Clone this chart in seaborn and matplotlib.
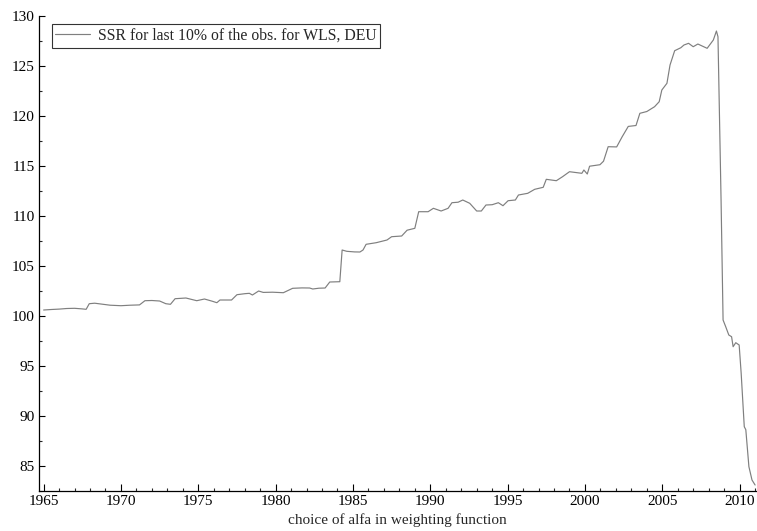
import matplotlib
matplotlib.use("Agg")
import matplotlib.pyplot as plt
from matplotlib.ticker import MultipleLocator
import seaborn as sns
import pandas as pd

# Sum of squared residuals for the last 10% of observations (WLS, DEU)
years = [
    1965.0, 1965.5, 1966.0, 1966.5, 1967.0, 1967.5, 1967.75, 1967.95, 1968.3, 1968.8,
    1969.3, 1970.0, 1970.6, 1971.2, 1971.55, 1972.0, 1972.5, 1972.9, 1973.2, 1973.5,
    1974.2, 1974.9, 1975.4, 1975.9, 1976.2, 1976.4, 1977.15, 1977.5, 1978.0, 1978.3,
    1978.5, 1978.9, 1979.2, 1979.8, 1980.5, 1981.1, 1981.7, 1982.2, 1982.4, 1982.8,
    1983.2, 1983.5, 1984.15, 1984.3, 1984.6, 1985.1, 1985.45, 1985.65, 1985.85, 1986.5,
    1987.2, 1987.5, 1988.15, 1988.5, 1989.0, 1989.25, 1989.86, 1990.2, 1990.7, 1991.15,
    1991.4, 1991.8, 1992.1, 1992.55, 1993.0, 1993.3, 1993.6, 1994.0, 1994.4, 1994.7,
    1995.03, 1995.5, 1995.7, 1996.3, 1996.75, 1997.3, 1997.5, 1998.15, 1998.55, 1999.0,
    1999.8, 1999.93, 2000.15, 2000.3, 2000.97, 2001.2, 2001.5, 2002.05, 2002.4, 2002.8,
    2003.3, 2003.55, 2004.0, 2004.5, 2004.8, 2004.97, 2005.3, 2005.5, 2005.8, 2006.2,
    2006.4, 2006.7, 2007.0, 2007.3, 2007.9, 2008.3, 2008.5, 2008.6, 2008.8, 2008.93,
    2009.1, 2009.3, 2009.48, 2009.58, 2009.75, 2009.97, 2010.1, 2010.2, 2010.3, 2010.4,
    2010.6, 2010.8, 2011.0,
]
ssr = [
    100.57, 100.62, 100.66, 100.72, 100.74, 100.68, 100.64, 101.2, 101.25, 101.15,
    101.05, 101.0, 101.05, 101.08, 101.5, 101.52, 101.47, 101.2, 101.14, 101.7,
    101.77, 101.5, 101.67, 101.45, 101.3, 101.57, 101.57, 102.1, 102.2, 102.24,
    102.07, 102.47, 102.33, 102.35, 102.3, 102.74, 102.78, 102.77, 102.67, 102.75,
    102.77, 103.37, 103.4, 106.57, 106.44, 106.38, 106.37, 106.57, 107.14, 107.3,
    107.57, 107.9, 107.97, 108.55, 108.74, 110.4, 110.4, 110.74, 110.47, 110.74,
    111.3, 111.35, 111.57, 111.24, 110.47, 110.47, 111.07, 111.1, 111.3, 111.0,
    111.5, 111.57, 112.07, 112.24, 112.64, 112.84, 113.64, 113.5, 113.9, 114.4,
    114.24, 114.57, 114.17, 114.95, 115.1, 115.45, 116.9, 116.88, 117.88, 118.93,
    119.02, 120.24, 120.42, 120.9, 121.4, 122.57, 123.24, 125.07, 126.5, 126.8,
    127.07, 127.24, 126.9, 127.17, 126.74, 127.57, 128.47, 127.9, 111.57, 99.57,
    98.9, 98.07, 97.9, 96.9, 97.3, 97.07, 94.24, 91.57, 88.9, 88.6,
    84.9, 83.57, 83.07,
]
series_label = "SSR for last 10% of the obs. for WLS, DEU"
x_label = "choice of alfa in weighting function"

df = pd.DataFrame({"year": years, "ssr": ssr})

sns.set_theme(style="ticks")
plt.rcParams["font.family"] = ["Liberation Serif", "DejaVu Serif"]

fig = plt.figure(figsize=(7.57, 5.31), dpi=100)
ax = fig.add_axes([0.0515, 0.0759, 0.947, 0.8945])

sns.lineplot(data=df, x="year", y="ssr", ax=ax, color="#7f7f7f",
             linewidth=0.85, label=series_label, sort=False, estimator=None)

ax.set_xlim(1964.7, 2011.05)
ax.set_ylim(82.5, 130)
ax.xaxis.set_major_locator(MultipleLocator(5))
ax.xaxis.set_minor_locator(MultipleLocator(1))
ax.yaxis.set_major_locator(MultipleLocator(5))
ax.yaxis.set_minor_locator(MultipleLocator(2.5))

ax.tick_params(axis="both", which="major", direction="in", length=5,
               width=0.8, labelsize=11, colors="black", pad=3)
ax.tick_params(axis="both", which="minor", direction="in", length=2.5,
               width=0.8)
ax.tick_params(axis="y", which="major", length=4)

for side in ("top", "right"):
    ax.spines[side].set_visible(False)
for side in ("left", "bottom"):
    ax.spines[side].set_linewidth(0.9)
    ax.spines[side].set_color("black")

ax.set_xlabel(x_label, fontsize=11, labelpad=4)
ax.set_ylabel("")

leg = ax.legend(loc="upper left", bbox_to_anchor=(0.0175, 0.983), fontsize=11.3,
                frameon=True, fancybox=False, edgecolor="black",
                handlelength=2.2, handletextpad=0.5, borderpad=0.25,
                borderaxespad=0)
leg.get_frame().set_linewidth(0.8)

fig.savefig("out.png", dpi=100)
